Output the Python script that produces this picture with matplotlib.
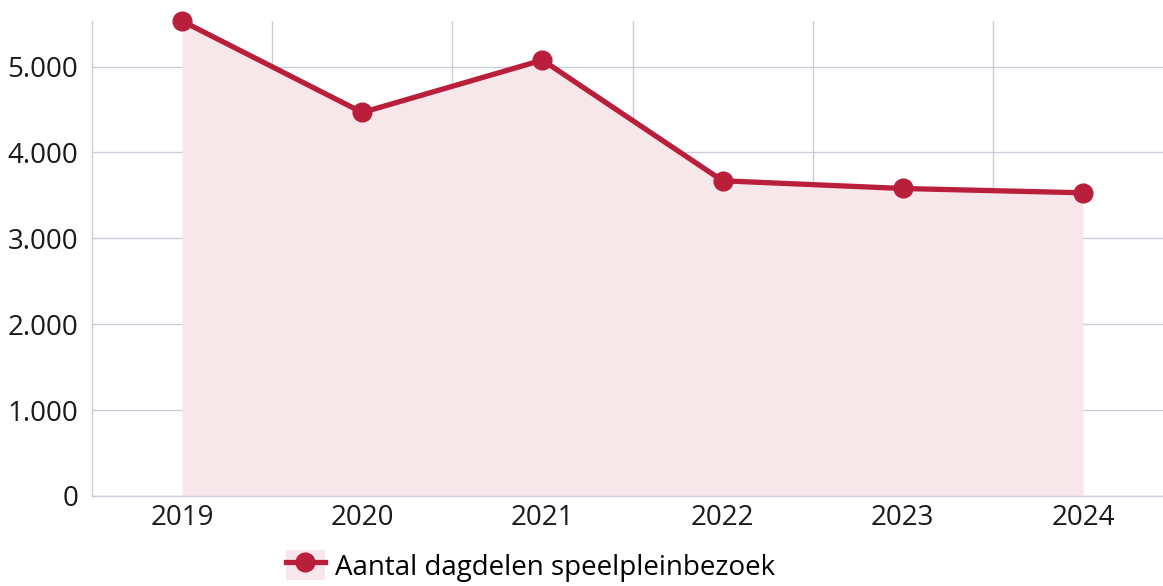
import matplotlib.pyplot as plt
from matplotlib.lines import Line2D
from matplotlib.patches import Patch
from matplotlib.ticker import FuncFormatter

years = ["2019", "2020", "2021", "2022", "2023", "2024"]
dagdelen = [5530, 4465, 5075, 3670, 3580, 3530]
label = "Aantal dagdelen speelpleinbezoek"

line_color = "#B91E3B"
fill_color = "#F7E6EA"
grid_color = "#C9CDD9"

plt.rcParams['font.family'] = ['Open Sans', 'DejaVu Sans']

fig = plt.figure(figsize=(11.63, 5.86), dpi=100)
# right edge of the plot runs past the image, like the original
ax = fig.add_axes([92 / 1163, 90 / 586, 1081 / 1163, 475 / 586])

x = list(range(len(years)))
ax.fill_between(x, dagdelen, 0, color=fill_color, lw=0, zorder=1)
ax.plot(x, dagdelen, color=line_color, lw=3.8, marker="o", ms=13.5,
        solid_capstyle="round", zorder=3, clip_on=False)

ax.set_xlim(-0.5, len(years) - 0.5)
ax.set_ylim(0, max(dagdelen))
ax.set_xticks(x)
ax.set_xticklabels(years)
ax.set_xticks([i + 0.5 for i in x[:-1]], minor=True)
ax.set_yticks(range(0, 6000, 1000))
ax.yaxis.set_major_formatter(FuncFormatter(lambda v, p: f"{int(v):,}".replace(",", ".")))

ax.grid(axis="y", which="major", color=grid_color, lw=1, zorder=0)
ax.grid(axis="x", which="minor", color=grid_color, lw=1, zorder=0)
ax.set_axisbelow(True)
for s in ["top", "right"]:
    ax.spines[s].set_visible(False)
for s in ["left", "bottom"]:
    ax.spines[s].set_color(grid_color)
    ax.spines[s].set_linewidth(1)
ax.tick_params(axis="both", which="both", length=0, labelsize=20, colors="#1a1a1a")
ax.tick_params(axis="x", pad=6)
ax.tick_params(axis="y", pad=10)

handle = (Patch(facecolor=fill_color, edgecolor="none"),
          Line2D([], [], color=line_color, lw=3.8, marker="o", ms=13.5))
fig.legend([handle], [label], loc="lower center", bbox_to_anchor=(0.456, -0.035),
           frameon=False, fontsize=20, handlelength=1.4, handleheight=1.3,
           handletextpad=0.35)

fig.savefig("out.png", dpi=100)
